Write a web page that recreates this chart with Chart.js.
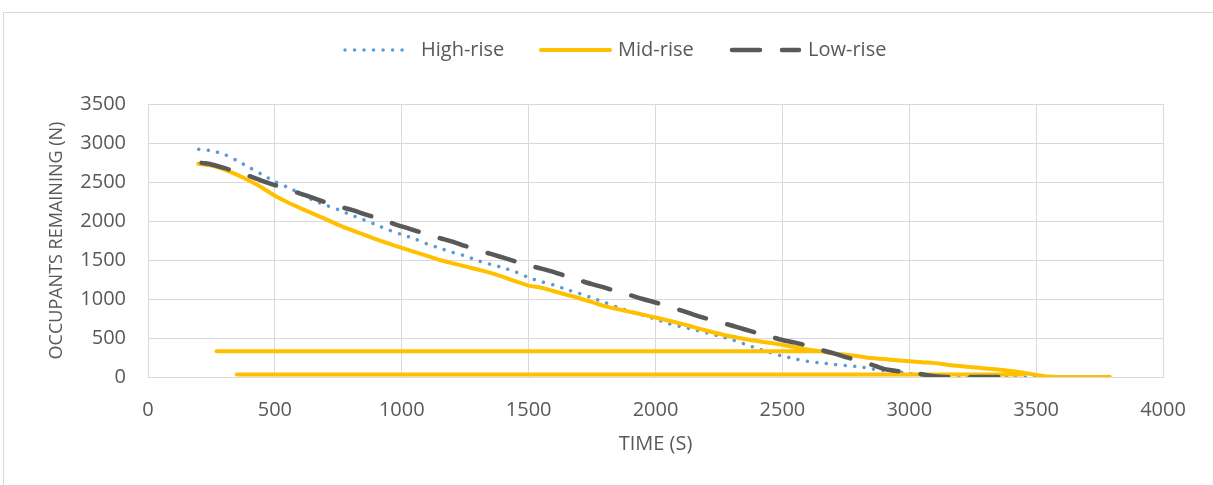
<!DOCTYPE html>
<html>
<head>
<meta charset="utf-8">
<script src="https://cdn.jsdelivr.net/npm/chart.js@4.4.1/dist/chart.umd.min.js"></script>
<style>
  html, body { margin: 0; padding: 0; background: #ffffff; overflow: hidden; width: 1213px; height: 485px; }
  #frame { position: absolute; left: 3px; top: 12px; width: 1300px; height: 600px; border: 1px solid #d9d9d9; box-sizing: border-box; }
  #wrap { position: absolute; left: 0; top: 0; width: 1213px; height: 485px; }
</style>
</head>
<body>
<div id="frame"></div>
<div id="wrap"><canvas id="c" width="1213" height="485"></canvas></div>
<script>
// ---- Data ----
const xTicks = [0, 500, 1000, 1500, 2000, 2500, 3000, 3500, 4000];
const yTicks = [0, 500, 1000, 1500, 2000, 2500, 3000, 3500];

const highTime = [200, 250, 300, 350, 400, 450, 500, 550, 600, 650, 700, 750, 800, 850, 900, 950, 1000, 1050, 1100, 1150, 1200, 1250, 1300, 1350, 1400, 1450, 1500, 1550, 1600, 1650, 1700, 1750, 1800, 1850, 1900, 1950, 2000, 2050, 2100, 2150, 2200, 2250, 2300, 2350, 2400, 2450, 2500, 2550, 2600, 2650, 2700, 2750, 2800, 2850, 2900, 2950, 3000, 3050, 3100, 3150, 3200, 3300, 3400, 3500];
const highRemaining = [2920, 2900, 2855, 2775, 2685, 2595, 2505, 2432, 2352, 2268, 2203, 2145, 2077, 2016, 1950, 1883, 1826, 1772, 1705, 1652, 1598, 1552, 1492, 1444, 1400, 1345, 1275, 1222, 1179, 1121, 1070, 1015, 956, 895, 842, 792, 742, 686, 646, 609, 568, 524, 480, 424, 367, 317, 268, 233, 200, 181, 162, 147, 132, 105, 81, 68, 45, 25, 10, 0, 0, 0, 0, 0];

const midTime = [198, 250, 300, 350, 400, 450, 500, 550, 600, 650, 700, 750, 800, 850, 900, 950, 1000, 1050, 1100, 1150, 1200, 1250, 1300, 1350, 1400, 1450, 1500, 1550, 1600, 1650, 1700, 1750, 1800, 1850, 1900, 1950, 2000, 2050, 2100, 2150, 2200, 2250, 2300, 2350, 2400, 2450, 2500, 2550, 2600, 2650, 2700, 2750, 2800, 2850, 2900, 2950, 3000, 3050, 3100, 3150, 3200, 3250, 3300, 3350, 3400, 3450, 3500, 3550, 3600, 3700, 3790];
const midRemaining = [2735, 2710, 2660, 2595, 2515, 2425, 2325, 2240, 2165, 2095, 2025, 1950, 1885, 1825, 1765, 1710, 1655, 1603, 1552, 1500, 1458, 1418, 1378, 1335, 1283, 1225, 1172, 1145, 1100, 1055, 1010, 960, 908, 870, 835, 800, 762, 725, 685, 640, 596, 555, 520, 488, 462, 438, 412, 383, 353, 330, 303, 285, 265, 243, 230, 215, 203, 190, 178, 158, 140, 125, 110, 95, 78, 55, 27, 6, 1, 0, 2];
// flat runs that appear in the Mid-rise series
const midFlatUpperTime = [270, 2640];
const midFlatUpperRemaining = [330, 330];
const midFlatLowerTime = [350, 3445];
const midFlatLowerRemaining = [32, 32];

const lowTime = [211, 250, 300, 350, 400, 450, 500, 550, 600, 650, 700, 750, 800, 850, 900, 950, 1000, 1050, 1100, 1150, 1200, 1250, 1300, 1350, 1400, 1450, 1500, 1550, 1600, 1650, 1700, 1750, 1800, 1850, 1900, 1950, 2000, 2050, 2100, 2150, 2200, 2250, 2300, 2350, 2400, 2450, 2500, 2550, 2600, 2650, 2700, 2750, 2800, 2850, 2900, 2950, 3000, 3050, 3100, 3150, 3250, 3420];
const lowRemaining = [2745, 2725, 2680, 2628, 2575, 2515, 2460, 2405, 2352, 2296, 2240, 2188, 2145, 2092, 2040, 1985, 1930, 1880, 1830, 1780, 1735, 1680, 1630, 1578, 1530, 1480, 1430, 1390, 1345, 1290, 1240, 1190, 1145, 1095, 1050, 1000, 955, 905, 855, 800, 750, 705, 660, 612, 565, 520, 475, 440, 400, 350, 305, 255, 210, 160, 105, 78, 60, 35, 10, 0, 0, 0];

const seriesNames = ['High-rise', 'Mid-rise', 'Low-rise'];
const xTitle = 'TIME (S)';
const yTitle = 'OCCUPANTS REMAINING (N)';

// ---- build datasets ----
const pts = (xs, ys) => xs.map((x, i) => ({ x: x, y: ys[i] }));
const gap = (x) => ({ x: x, y: null });
const midPoints = pts(midTime, midRemaining)
  .concat([gap(midFlatUpperTime[0])], pts(midFlatUpperTime, midFlatUpperRemaining))
  .concat([gap(midFlatLowerTime[0])], pts(midFlatLowerTime, midFlatLowerRemaining));

const FONT = "'Open Sans', 'Liberation Sans', sans-serif";
const TEXT = '#595959';
const GRID = '#d9d9d9';

const legendLayout = [
  { x0: 345, x1: 406, tx: 421 },
  { x0: 541, x1: 610, tx: 618 },
  { x0: 732, x1: 799, tx: 808 }
];
const legendPlugin = {
  id: 'customLegend',
  afterDraw(chart) {
    const ctx = chart.ctx;
    const y = 50;
    chart.data.datasets.forEach((ds, i) => {
      const L = legendLayout[i];
      ctx.save();
      ctx.strokeStyle = ds.borderColor;
      ctx.lineWidth = ds.borderWidth;
      ctx.lineCap = ds.borderCapStyle || 'butt';
      ctx.setLineDash(ds.borderDash || []);
      ctx.beginPath();
      ctx.moveTo(L.x0, y);
      ctx.lineTo(L.x1, y);
      ctx.stroke();
      ctx.setLineDash([]);
      ctx.fillStyle = TEXT;
      ctx.font = '20px ' + FONT;
      ctx.textBaseline = 'middle';
      ctx.textAlign = 'left';
      ctx.fillText(ds.label, L.tx, y);
      ctx.restore();
    });
  }
};

const plainTick = (v) => String(v);

new Chart(document.getElementById('c'), {
  type: 'line',
  data: {
    datasets: [
      {
        label: seriesNames[0],
        data: pts(highTime, highRemaining),
        borderColor: '#5b9bd5',
        borderWidth: 3.5,
        borderDash: [0.01, 9.5],
        borderCapStyle: 'round',
        borderJoinStyle: 'round',
        pointRadius: 0,
        tension: 0.3,
        order: 3,
        fill: false
      },
      {
        label: seriesNames[1],
        data: midPoints,
        borderColor: '#ffc000',
        borderWidth: 4,
        borderCapStyle: 'round',
        borderJoinStyle: 'round',
        pointRadius: 0,
        tension: 0.3,
        spanGaps: false,
        order: 2,
        fill: false
      },
      {
        label: seriesNames[2],
        data: pts(lowTime, lowRemaining),
        borderColor: '#595959',
        borderWidth: 4.5,
        borderDash: [28, 22],
        borderCapStyle: 'round',
        borderJoinStyle: 'round',
        pointRadius: 0,
        tension: 0.3,
        order: 1,
        fill: false
      }
    ]
  },
  options: {
    responsive: false,
    animation: false,
    events: [],
    layout: { padding: { top: 104, right: 50, bottom: 0, left: 0 } },
    plugins: { legend: { display: false }, tooltip: { enabled: false } },
    scales: {
      x: {
        type: 'linear',
        min: xTicks[0],
        max: xTicks[xTicks.length - 1],
        afterBuildTicks: (s) => { s.ticks = xTicks.map(v => ({ value: v })); },
        afterFit: (s) => { s.height = 108; },
        ticks: { color: TEXT, font: { family: FONT, size: 20 }, padding: 21, maxRotation: 0, callback: plainTick },
        grid: { color: GRID, lineWidth: 1, drawTicks: false },
        border: { color: GRID, width: 1 },
        title: { display: true, text: xTitle, color: TEXT, font: { family: FONT, size: 20 }, padding: { top: 0, bottom: 29 } }
      },
      y: {
        type: 'linear',
        min: yTicks[0],
        max: yTicks[yTicks.length - 1],
        afterBuildTicks: (s) => { s.ticks = yTicks.map(v => ({ value: v })); },
        afterFit: (s) => { s.width = 148; },
        ticks: { color: TEXT, font: { family: FONT, size: 20 }, padding: 22, callback: plainTick },
        grid: { color: GRID, lineWidth: 1, drawTicks: false },
        border: { color: GRID, width: 1 },
        title: { display: true, text: yTitle, color: TEXT, font: { family: FONT, size: 18 }, padding: { top: 46, bottom: 0 } }
      }
    }
  },
  plugins: [legendPlugin]
});
</script>
</body>
</html>
